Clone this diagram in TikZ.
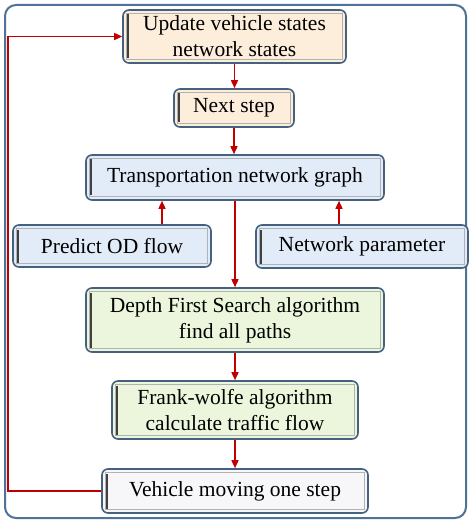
\documentclass[tikz,border=0pt]{standalone}
\usepackage{fontspec}
\setmainfont{Liberation Serif}
\usetikzlibrary{arrows.meta,positioning}

\definecolor{frameblue}{HTML}{4F7398}
\definecolor{boxline}{HTML}{44627F}
\definecolor{flowred}{HTML}{C00000}
\definecolor{peach}{HTML}{FDEEDC}
\definecolor{paleblue}{HTML}{E2EBF8}
\definecolor{palegreen}{HTML}{EBF6DC}
\definecolor{paleplain}{HTML}{F7F7F9}

\tikzset{
  flowbox/.style={draw=boxline, line width=1.6pt, rounded corners=6pt, align=center,
    inner sep=2pt, font=\fontsize{21.5}{26}\selectfont,
    path picture={
      \draw[gray!60, line width=0.8pt, sharp corners]
        ([shift={(3.5pt,3.5pt)}]path picture bounding box.south west) rectangle
        ([shift={(-3.5pt,-3.5pt)}]path picture bounding box.north east);
      \draw[black!75, line width=1.6pt]
        ([shift={(5pt,4.5pt)}]path picture bounding box.south west) --
        ([shift={(5pt,-4.5pt)}]path picture bounding box.north west);
    }},
  flow/.style={draw=flowred, line width=1.5pt, -{Triangle[length=8pt,width=7pt]}},
}

\begin{document}
\begin{tikzpicture}[x=1pt,y=-1pt]
  \useasboundingbox[fill=white] (0,0) rectangle (469,521);
  \draw[frameblue, line width=2pt, rounded corners=11pt] (5,5) rectangle (466,518);

  \node[flowbox, fill=peach, minimum width=223pt, minimum height=53pt] (update) at (234.5,36.5)
    {Update vehicle states\\network states};
  \node[flowbox, fill=peach, minimum width=120pt, minimum height=38pt] (next) at (234,108) {Next step};
  \node[flowbox, fill=paleblue, minimum width=298pt, minimum height=45pt] (graph) at (235,177.5)
    {Transportation network graph};
  \node[flowbox, fill=paleblue, minimum width=198pt, minimum height=42pt] (od) at (112,246)
    {Predict OD flow};
  \node[flowbox, fill=paleblue, minimum width=212pt, minimum height=43pt] (param) at (362,246.5)
    {Network parameter};
  \node[flowbox, fill=palegreen, minimum width=298pt, minimum height=64pt] (dfs) at (235,320)
    {Depth First Search algorithm\\find all paths};
  \node[flowbox, fill=palegreen, minimum width=246pt, minimum height=58pt] (fw) at (235,410)
    {Frank-wolfe algorithm\\calculate traffic flow};
  \node[flowbox, fill=paleplain, minimum width=266pt, minimum height=44pt] (move) at (235,491)
    {Vehicle moving one step};

  % main column
  \draw[flow] (update.south) -- (update.south |- next.north);
  \draw[flow] (next.south) -- (next.south |- graph.north);
  \draw[flow] (graph.south) -- (graph.south |- dfs.north);
  \draw[flow] (dfs.south) -- (dfs.south |- fw.north);
  \draw[flow] (fw.south) -- (fw.south |- move.north);

  % inputs to the graph
  \draw[flow] ([xshift=50pt]od.north) -- ([xshift=50pt]od.north |- graph.south);
  \draw[flow] ([xshift=-23pt]param.north) -- ([xshift=-23pt]param.north |- graph.south);

  % loop back
  \draw[flow] (move.west) -- ++(-93,0) |- (update.west);
\end{tikzpicture}
\end{document}
